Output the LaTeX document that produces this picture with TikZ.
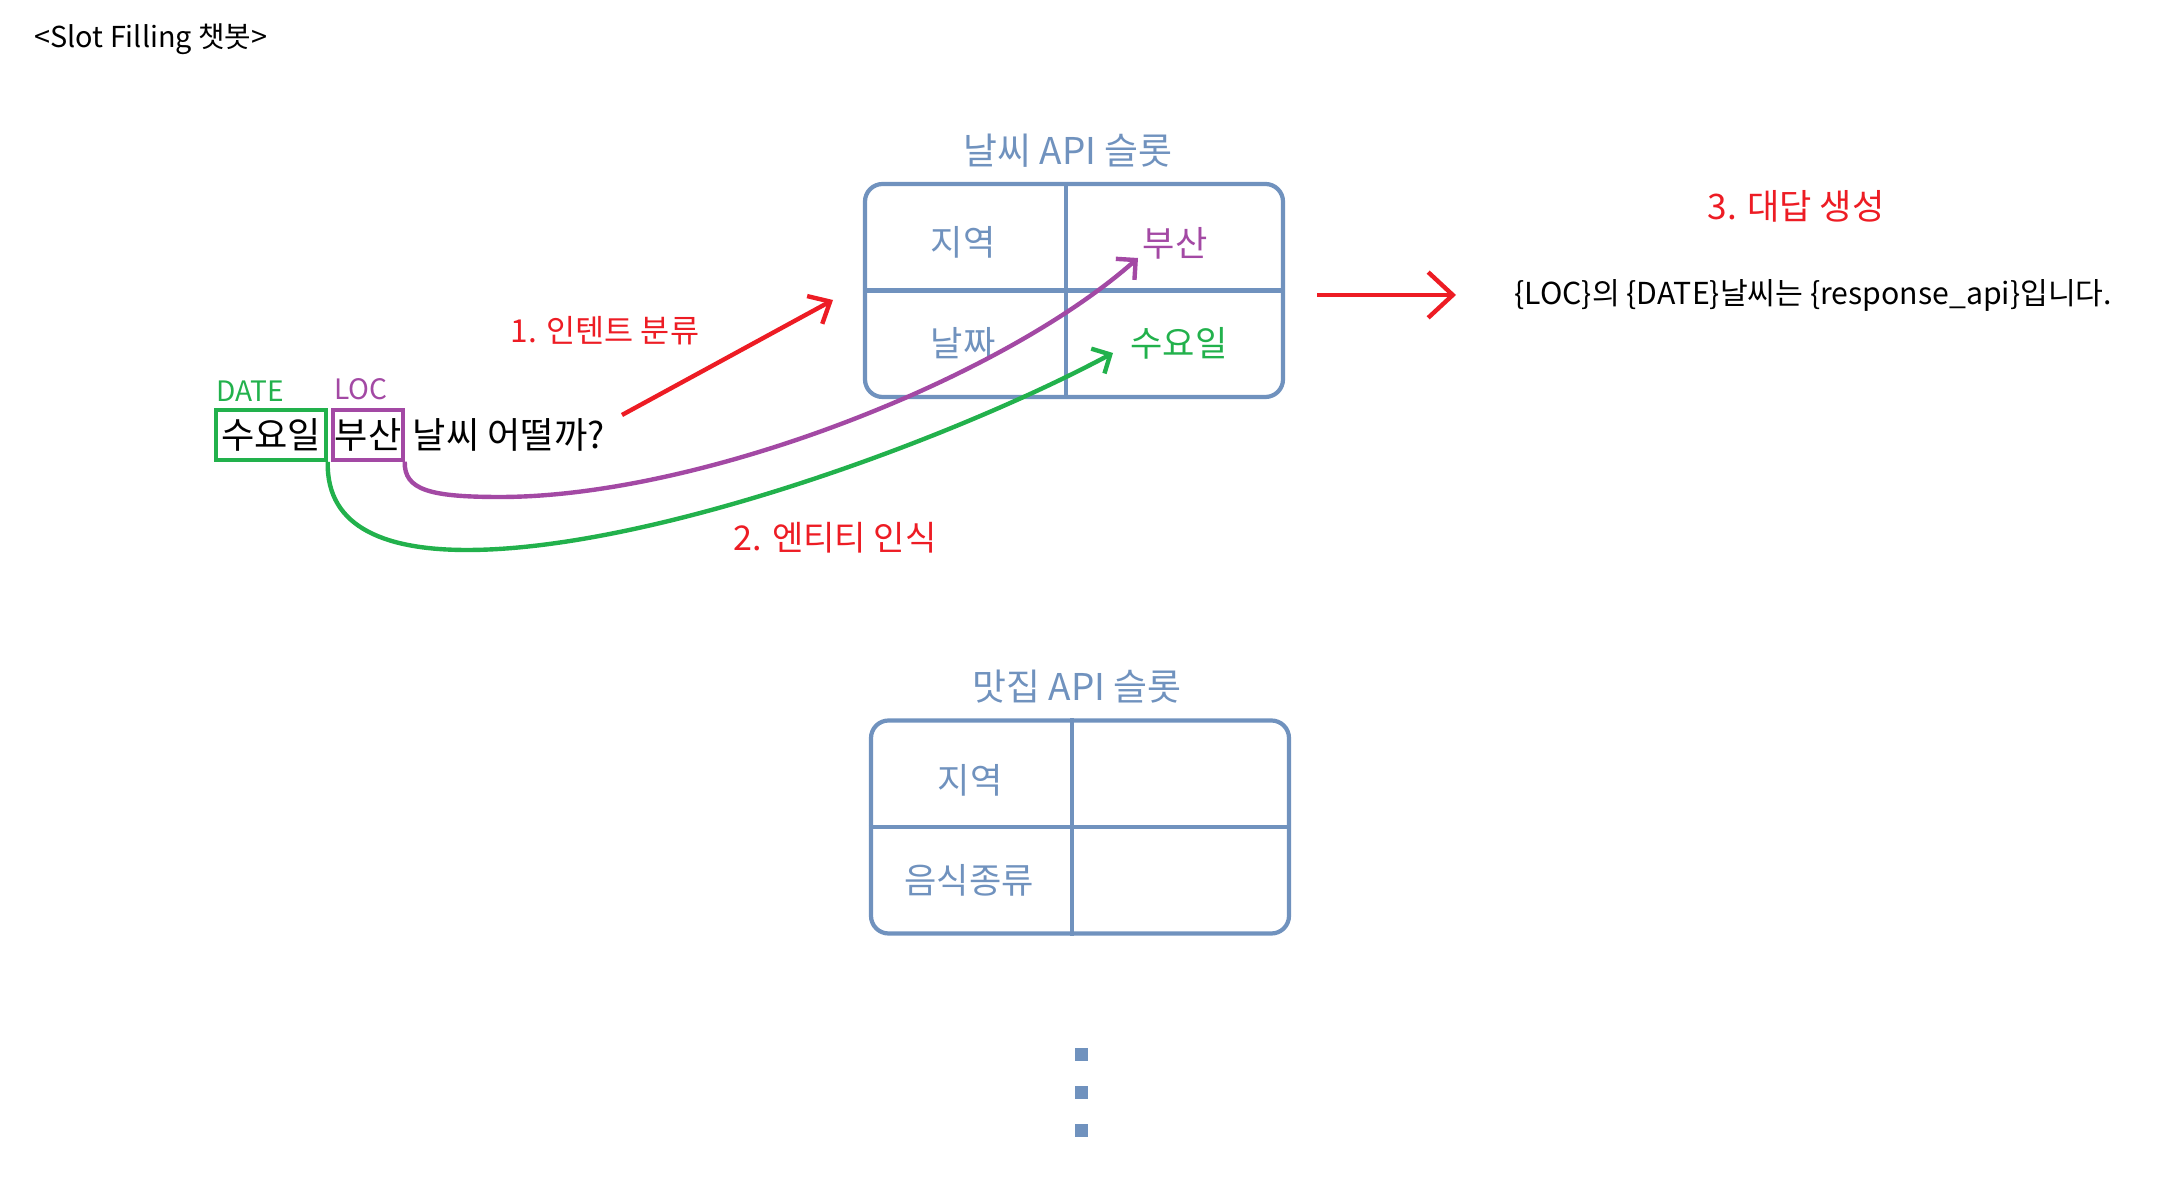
\documentclass[tikz,border=0pt]{standalone}
\usepackage{fontspec}
\setmainfont{Noto Sans CJK KR}
\usepackage{tikz}
\usetikzlibrary{arrows.meta,positioning}
\definecolor{pgreen}{RGB}{34,177,76}
\definecolor{pred}{RGB}{237,28,36}
\definecolor{ppurple}{RGB}{163,73,164}
\definecolor{slotblue}{RGB}{112,146,190}

\begin{document}
\begin{tikzpicture}[
  slot/.style={draw=slotblue,line width=1.2pt,rounded corners=5pt,minimum width=4.18cm,minimum height=2.13cm,inner sep=0pt},
  divider/.style={slotblue,line width=1.2pt},
  cell/.style={text=slotblue,font=\fontsize{10}{12}\selectfont},
  head/.style={text=slotblue,font=\fontsize{10.5}{12}\selectfont},
  stage/.style={text=pred,font=\fontsize{9}{11}\selectfont},
  word/.style={font=\fontsize{10.3}{12}\selectfont,inner sep=0pt},
  tag/.style={font=\fontsize{8}{10}\selectfont},
  arr/.style={line width=1.25pt,-{Straight Barb[length=4pt,width=8pt]}}
]
\useasboundingbox (0,0) rectangle (21.58,-11.96);
\node[anchor=west,font=\fontsize{8.2}{10}\selectfont] (title) at (0.22,-0.39) {<Slot Filling 챗봇>};

\node[head] (whead) at (10.68,-1.51) {날씨 API 슬롯};
\node[slot] (wtab) at (10.74,-2.905) {};
\draw[divider] ([xshift=-0.08cm]wtab.north) -- ([xshift=-0.08cm]wtab.south);
\draw[divider] (wtab.west) -- (wtab.east);
\node[cell] (wloc) at (9.63,-2.42) {지역};
\node[cell,text=ppurple] (wlocv) at (11.75,-2.43) {부산};
\node[cell] (wdate) at (9.63,-3.43) {날짜};
\node[cell,text=pgreen] (wdatev) at (11.79,-3.43) {수요일};

\node[head] (fhead) at (10.77,-6.87) {맛집 API 슬롯};
\node[slot] (ftab) at (10.80,-8.27) {};
\draw[divider] ([xshift=-0.08cm]ftab.north) -- ([xshift=-0.08cm]ftab.south);
\draw[divider] (ftab.west) -- (ftab.east);
\node[cell] (floc) at (9.70,-7.80) {지역};
\node[cell] (ffood) at (9.69,-8.80) {음식종류};
\foreach \y in {10.55,10.93,11.31}
  \fill[slotblue] (10.81,-\y) +(-0.065,-0.065) rectangle +(0.065,0.065);

\node[tag,text=pgreen] (date) at (2.50,-3.91) {DATE};
\node[tag,text=ppurple] (loc) at (3.61,-3.89) {LOC};
\node[word,draw=pgreen,line width=1pt,minimum width=1.10cm,minimum height=0.50cm] (wed) at (2.71,-4.35) {수요일};
\node[word,draw=ppurple,line width=1pt,minimum width=0.70cm,minimum height=0.50cm] (busan) at (3.68,-4.35) {부산};
\node[word,anchor=west] (ask) at (4.12,-4.35) {날씨 어떨까?};

\node[stage] (intent) at (6.05,-3.31) {1. 인텐트 분류};
\node[stage,font=\fontsize{9.7}{11}\selectfont] (entity) at (8.35,-5.38) {2. 엔티티 인식};
\node[stage,font=\fontsize{10}{12}\selectfont] (reply) at (17.96,-2.06) {3. 대답 생성};
\node[anchor=west,font=\fontsize{8.6}{11}\selectfont] (answer) at (15.02,-2.95) {\{LOC\}의 \{DATE\}날씨는 \{response\_api\}입니다.};

\coordinate (ia) at (6.22,-4.15);
\coordinate (ib) at (8.33,-3.00);
\coordinate (pb) at (11.38,-2.58);
\coordinate (gb) at (11.13,-3.53);
\coordinate (ra) at (13.17,-2.95);
\coordinate (rb) at (14.56,-2.95);
\draw[arr,pred,-{Straight Barb[length=5pt,width=9pt]}] (ia) -- (ib);
\draw[arr,pred,-{Straight Barb[length=7pt,width=13pt]}] (ra) -- (rb);
\draw[arr,ppurple] (busan.south east) .. controls (4.04,-4.90) and (4.30,-4.97) .. (5.00,-4.97) .. controls (7.00,-4.97) and (10.00,-3.80) .. (pb);
\draw[arr,pgreen] (wed.south east) .. controls (3.26,-5.30) and (3.90,-5.50) .. (4.67,-5.50) .. controls (6.50,-5.50) and (9.50,-4.40) .. (gb);
\end{tikzpicture}
\end{document}
